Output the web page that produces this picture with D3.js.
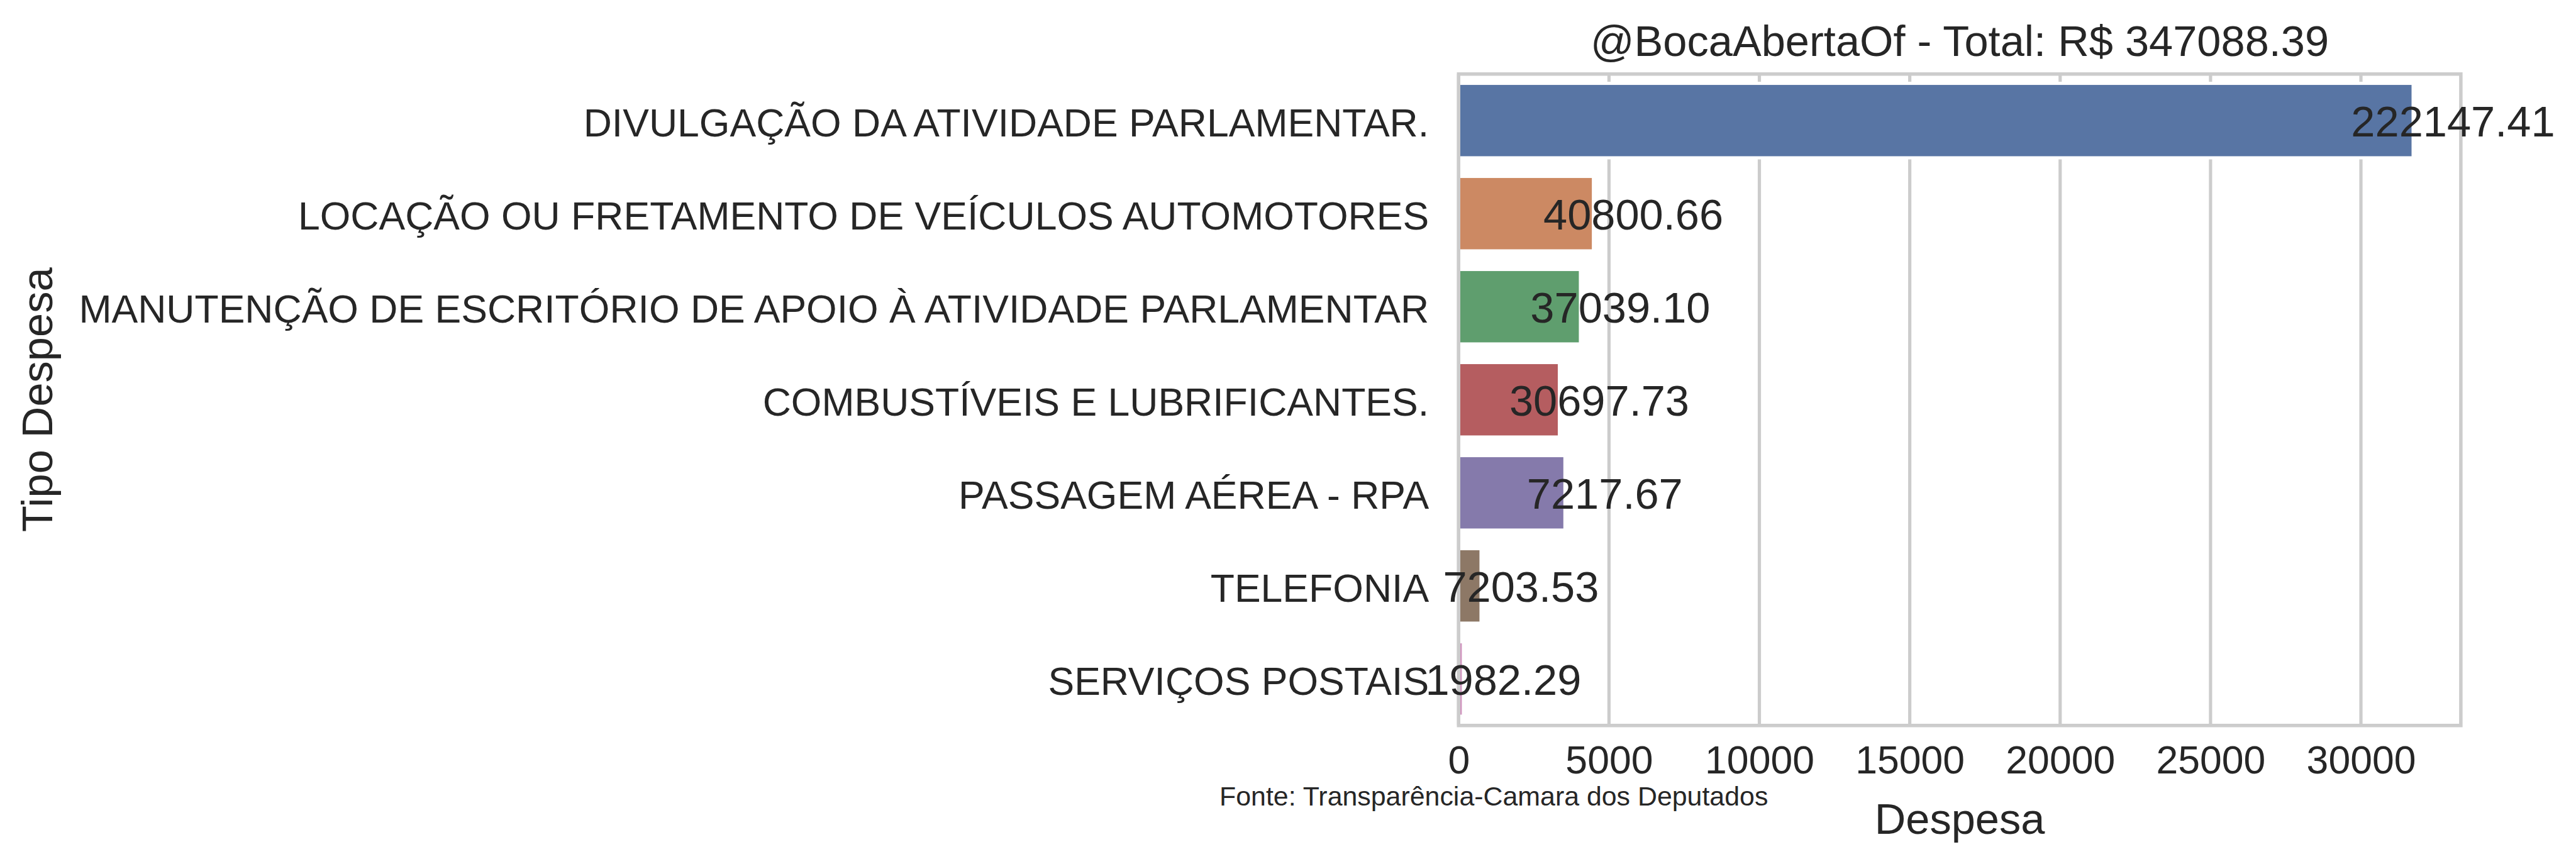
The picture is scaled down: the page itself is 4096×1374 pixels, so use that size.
<!DOCTYPE html>
<html>
<head>
<meta charset="utf-8">
<script src="https://cdn.jsdelivr.net/npm/d3@7"></script>
<style>
  html, body { margin: 0; padding: 0; background: #ffffff; }
  svg { display: block; }
  text { font-family: "Liberation Sans", Arial, Helvetica, sans-serif; fill: #262626; }
</style>
</head>
<body>
<svg id="chart" width="4096" height="1374"></svg>
<script>
// ---- data ----
const categories = [
  "DIVULGAÇÃO DA ATIVIDADE PARLAMENTAR.",
  "LOCAÇÃO OU FRETAMENTO DE VEÍCULOS AUTOMOTORES",
  "MANUTENÇÃO DE ESCRITÓRIO DE APOIO À ATIVIDADE PARLAMENTAR",
  "COMBUSTÍVEIS E LUBRIFICANTES.",
  "PASSAGEM AÉREA - RPA",
  "TELEFONIA",
  "SERVIÇOS POSTAIS"
];
// bar lengths (mean expense per record)
const barValues = [31735, 4482, 4050, 3350, 3535, 746, 160];
// totals written as labels on the bars
const totalValues = [222147.41, 40800.66, 37039.10, 30697.73, 7217.67, 7203.53, 1982.29];
const colors = ["#5875a4", "#cc8963", "#5f9e6e", "#b55d60", "#857aab", "#8d7866", "#d095bf"];
const xTicks = [0, 5000, 10000, 15000, 20000, 25000, 30000];
const titleText = "@BocaAbertaOf - Total: R$ 347088.39";
const xLabel = "Despesa";
const yLabel = "Tipo Despesa";
const sourceText = "Fonte: Transparência-Camara dos Deputados";

// ---- layout (scaled 0.857 of reference) ----
const S = 4096 / 4776;
const axL = 2704.3 * S, axR = 4562.5 * S, axT = 137.3 * S, axB = 1345.3 * S;
const gridColor = "#cccccc";
const tickFs = 72.9 * S, labelFs = 80 * S, titleFs = 80 * S, valueFs = 80 * S, srcFs = 50 * S;

const svg = d3.select("#chart");

const xMax = d3.max(barValues) * 1.05;
const x = d3.scaleLinear().domain([0, xMax]).range([axL, axR]);
const y = d3.scaleBand().domain(categories).range([axT, axB]).paddingInner(0.2).paddingOuter(0.1);

// gridlines
svg.append("g").selectAll("line").data(xTicks).join("line")
  .attr("x1", d => x(d)).attr("x2", d => x(d))
  .attr("y1", axT).attr("y2", axB)
  .attr("stroke", gridColor).attr("stroke-width", 6 * S);

// bars
svg.append("g").selectAll("rect").data(categories).join("rect")
  .attr("x", x(0))
  .attr("y", d => y(d))
  .attr("width", (d, i) => x(barValues[i]) - x(0))
  .attr("height", y.bandwidth())
  .attr("fill", (d, i) => colors[i])
  .attr("stroke", "#ffffff")
  .attr("stroke-width", 5);

// spines
svg.append("rect")
  .attr("x", axL).attr("y", axT)
  .attr("width", axR - axL).attr("height", axB - axT)
  .attr("fill", "none").attr("stroke", gridColor).attr("stroke-width", 6.4 * S);

// x axis
const xAxis = svg.append("g").attr("transform", `translate(0,${axB})`)
  .call(d3.axisBottom(x).tickValues(xTicks).tickSize(0).tickFormat(d3.format("d")));
xAxis.select(".domain").remove();
xAxis.selectAll("text")
  .attr("y", 89.3 * S).attr("dy", null)
  .style("font-size", tickFs + "px").attr("fill", "#262626");

// y axis
const yAxis = svg.append("g").attr("transform", `translate(${axL},0)`)
  .call(d3.axisLeft(y).tickSize(0));
yAxis.select(".domain").remove();
yAxis.selectAll("text")
  .attr("x", -55 * S).attr("dy", (0.4 * tickFs) + "px")
  .style("font-size", tickFs + "px").attr("fill", "#262626");

// value labels
svg.append("g").selectAll("text").data(categories).join("text")
  .attr("x", (d, i) => x(barValues[i]) + 74 * S)
  .attr("y", d => y(d) + y.bandwidth() / 2 + 0.37 * valueFs)
  .attr("text-anchor", "middle")
  .style("font-size", valueFs + "px")
  .text((d, i) => totalValues[i].toFixed(2));

// title
svg.append("text")
  .attr("x", (axL + axR) / 2).attr("y", 103.3 * S)
  .attr("text-anchor", "middle")
  .style("font-size", titleFs + "px")
  .text(titleText);

// x label
svg.append("text")
  .attr("x", (axL + axR) / 2).attr("y", 1546.7 * S)
  .attr("text-anchor", "middle")
  .style("font-size", labelFs + "px")
  .text(xLabel);

// y label
svg.append("text")
  .attr("transform", `translate(${96.7 * S},${(axT + axB) / 2}) rotate(-90)`)
  .attr("text-anchor", "middle")
  .style("font-size", labelFs + "px")
  .text(yLabel);

// source note
svg.append("text")
  .attr("x", 2261 * S).attr("y", 1493.3 * S)
  .style("font-size", srcFs + "px")
  .text(sourceText);
</script>
</body>
</html>
